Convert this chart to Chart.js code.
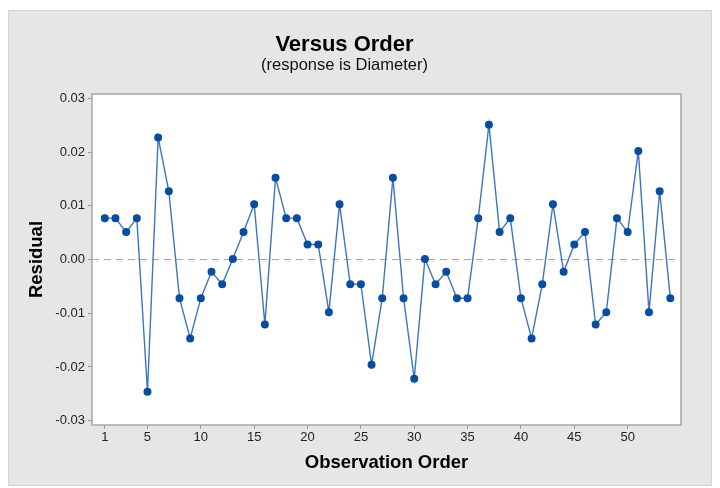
<!DOCTYPE html>
<html>
<head>
<meta charset="utf-8">
<script src="https://cdn.jsdelivr.net/npm/chart.js@4/dist/chart.umd.min.js"></script>
<style>
  html, body { margin: 0; padding: 0; background: #fff; }
  #wrap { width: 720px; height: 488px; }
</style>
</head>
<body>
<div id="wrap"><canvas id="order-chart" width="720" height="488"></canvas></div>
<script>
// observation order 1..54 and the residuals
const observations = [
  1, 2, 3, 4, 5, 6, 7, 8, 9, 10,
  11, 12, 13, 14, 15, 16, 17, 18, 19, 20,
  21, 22, 23, 24, 25, 26, 27, 28, 29, 30,
  31, 32, 33, 34, 35, 36, 37, 38, 39, 40,
  41, 42, 43, 44, 45, 46, 47, 48, 49, 50,
  51, 52, 53, 54
];
const residuals = [
  0.0077, 0.0077, 0.0051, 0.0077, -0.0246, 0.0227, 0.0127, -0.0072, -0.0147, -0.0072,
  -0.0023, -0.0046, 0.0001, 0.0051, 0.0103, -0.0121, 0.0152, 0.0077, 0.0077, 0.0028,
  0.0028, -0.0098, 0.0103, -0.0046, -0.0046, -0.0196, -0.0072, 0.0152, -0.0072, -0.0222,
  0.0001, -0.0046, -0.0023, -0.0072, -0.0072, 0.0077, 0.0251, 0.0051, 0.0077, -0.0072,
  -0.0147, -0.0046, 0.0103, -0.0023, 0.0028, 0.0051, -0.0121, -0.0098, 0.0077, 0.0051,
  0.0202, -0.0098, 0.0127, -0.0072
];
const xTicks = [1, 5, 10, 15, 20, 25, 30, 35, 40, 45, 50];
const yTicks = [-0.03, -0.02, -0.01, 0, 0.01, 0.02, 0.03];

const FONT = "'Liberation Sans', Arial, sans-serif";

// gray panel behind everything, white plot area with a gray frame
const panel = {
  id: 'panel',
  beforeDraw(chart) {
    const {ctx, chartArea: a} = chart;
    ctx.save();
    ctx.fillStyle = '#ffffff';
    ctx.fillRect(0, 0, chart.width, chart.height);
    ctx.fillStyle = '#e6e6e6';
    ctx.fillRect(8, 10, 704, 476);
    ctx.strokeStyle = '#d4d4d4';
    ctx.lineWidth = 1;
    ctx.strokeRect(8.5, 10.5, 703, 475);
    ctx.fillStyle = '#ffffff';
    ctx.fillRect(a.left, a.top, a.right - a.left, a.bottom - a.top);
    ctx.restore();
  },
  beforeDatasetsDraw(chart) {
    const {ctx, chartArea: a, scales} = chart;
    const y0 = scales.y.getPixelForValue(0);
    ctx.save();
    ctx.strokeStyle = '#a8a8a8';
    ctx.lineWidth = 1.2;
    ctx.setLineDash([7, 5]);
    ctx.beginPath();
    ctx.moveTo(a.left, y0);
    ctx.lineTo(a.right, y0);
    ctx.stroke();
    ctx.setLineDash([]);
    ctx.strokeStyle = '#a6a6a6';
    ctx.lineWidth = 1.5;
    ctx.strokeRect(a.left, a.top, a.right - a.left, a.bottom - a.top);
    ctx.restore();
  }
};

new Chart(document.getElementById('order-chart'), {
  type: 'line',
  data: {
    datasets: [{
      data: observations.map((o, i) => ({x: o, y: residuals[i]})),
      borderColor: '#3a77c0',
      borderWidth: 1.4,
      pointBackgroundColor: '#0b4c9f',
      pointBorderColor: '#0b4c9f',
      pointRadius: 3.3,
      tension: 0
    }]
  },
  options: {
    responsive: false,
    animation: false,
    devicePixelRatio: 1,
    layout: { padding: { left: 8, right: 39, top: 10, bottom: 0 } },
    plugins: {
      legend: { display: false },
      tooltip: { enabled: false },
      title: {
        display: true,
        text: 'Versus Order',
        color: '#000',
        font: { family: FONT, size: 22, weight: 'bold', lineHeight: 1 },
        padding: { top: 24, bottom: 0 }
      },
      subtitle: {
        display: true,
        text: '(response is Diameter)',
        color: '#111',
        font: { family: FONT, size: 16.5, lineHeight: 1 },
        padding: { top: 1, bottom: 20.5 }
      }
    },
    scales: {
      x: {
        type: 'linear',
        min: -0.2,
        max: 55,
        afterBuildTicks: s => { s.ticks = xTicks.map(v => ({value: v})); },
        afterFit: s => { s.height = 63; },
        grid: { drawOnChartArea: false, tickLength: 4, color: '#9a9a9a' },
        border: { display: false },
        ticks: { color: '#222', font: { family: FONT, size: 13 }, padding: 1, maxRotation: 0 },
        title: {
          display: true,
          text: 'Observation Order',
          color: '#000',
          font: { family: FONT, size: 18.5, weight: 'bold' },
          padding: { top: 14, bottom: 14 }
        }
      },
      y: {
        min: -0.0308,
        max: 0.0308,
        afterBuildTicks: s => { s.ticks = yTicks.map(v => ({value: v})); },
        afterFit: s => { s.width = 84; },
        grid: { drawOnChartArea: false, tickLength: 4, color: '#9a9a9a' },
        border: { display: false },
        ticks: {
          color: '#222',
          font: { family: FONT, size: 13 },
          padding: 3,
          callback: v => v.toFixed(2)
        },
        title: {
          display: true,
          text: 'Residual',
          color: '#000',
          font: { family: FONT, size: 18.5, weight: 'bold' },
          padding: { top: 18, bottom: 18 }
        }
      }
    }
  },
  plugins: [panel]
});
</script>
</body>
</html>
